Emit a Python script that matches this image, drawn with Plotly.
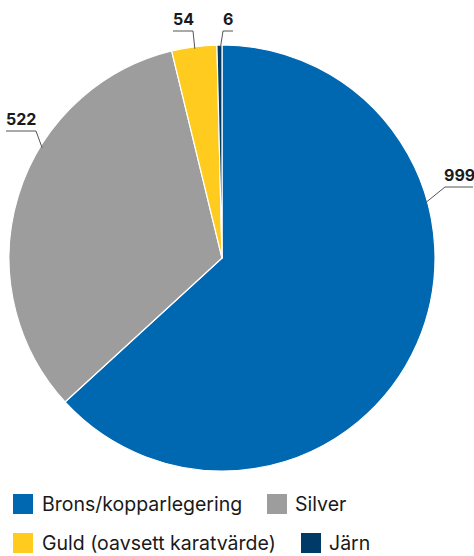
import math
import plotly.graph_objects as go

# ---- data ----
categories = ["Brons/kopparlegering", "Silver", "Guld (oavsett karatvärde)", "Järn"]
values = [999, 522, 54, 6]
colors = ["#0067b1", "#9d9d9d", "#fecb1e", "#003a66"]

# ---- layout constants (pixels) ----
W, H = 474, 556
CX, CY, R = 222, 258, 213

# label placement: edge angle (deg clockwise from 12 o'clock), elbow point, side of underline
label_layout = [
    dict(edge_angle=74.8, elbow=(445, 187), side="right", ulen=28),
    dict(edge_angle=301.5, elbow=(36, 131), side="left", ulen=30),
    dict(edge_angle=352.6, elbow=(193, 31), side="left", ulen=20),
    dict(edge_angle=359.6, elbow=(223, 31), side="right", ulen=10),
]

# legend layout (pixels): square left x, row top y, text x
legend_layout = [
    dict(sx=13, sy=494, tx=41),
    dict(sx=267, sy=494, tx=294),
    dict(sx=13, sy=533, tx=41),
    dict(sx=301, sy=533, tx=328),
]
SQ = 20

def px(x):
    return x / W

def py(y):
    return 1 - y / H

fig = go.Figure(go.Pie(
    labels=categories,
    values=values,
    sort=False,
    direction="clockwise",
    rotation=0,
    marker=dict(colors=colors, line=dict(color="white", width=1.2)),
    textinfo="none",
    hoverinfo="label+value",
    showlegend=False,
    domain=dict(x=[px(CX - R), px(CX + R)], y=[py(CY + R), py(CY - R)]),
))

shapes = []
annotations = []
FONT = "Inter"

for v, lay in zip(values, label_layout):
    a = math.radians(lay["edge_angle"])
    ex = CX + (R - 2) * math.sin(a)
    ey = CY - (R - 2) * math.cos(a)
    bx, by = lay["elbow"]
    shapes.append(dict(type="line", xref="paper", yref="paper",
                       x0=px(ex), y0=py(ey), x1=px(bx), y1=py(by),
                       line=dict(color="#555555", width=1)))
    if lay["side"] == "right":
        ux0, ux1 = bx, bx + lay["ulen"]
    else:
        ux0, ux1 = bx - lay["ulen"], bx
    shapes.append(dict(type="line", xref="paper", yref="paper",
                       x0=px(ux0), y0=py(by), x1=px(ux1), y1=py(by),
                       line=dict(color="#555555", width=1)))
    annotations.append(dict(
        x=px((ux0 + ux1) / 2), y=py(by - 1), xref="paper", yref="paper",
        xanchor="center", yanchor="bottom", showarrow=False,
        text=f"<b>{v}</b>", font=dict(family=FONT, size=16, color="#1a1a1a"),
        borderpad=0,
    ))

for name, col, lay in zip(categories, colors, legend_layout):
    shapes.append(dict(type="rect", xref="paper", yref="paper",
                       x0=px(lay["sx"]), x1=px(lay["sx"] + SQ),
                       y0=py(lay["sy"] + SQ), y1=py(lay["sy"]),
                       fillcolor=col, line=dict(width=0)))
    annotations.append(dict(
        x=px(lay["tx"]), y=py(lay["sy"] + SQ / 2), xref="paper", yref="paper",
        xanchor="left", yanchor="middle", showarrow=False,
        text=name, font=dict(family=FONT, size=19.5, color="#1a1a1a"),
        borderpad=0,
    ))

fig.update_layout(
    width=W, height=H,
    margin=dict(l=0, r=0, t=0, b=0),
    paper_bgcolor="white",
    plot_bgcolor="white",
    shapes=shapes,
    annotations=annotations,
)

fig.write_html(
    "out.html",
    config={"displayModeBar": False},
    post_script="document.body.style.margin='0';document.body.style.overflow='hidden';",
)
